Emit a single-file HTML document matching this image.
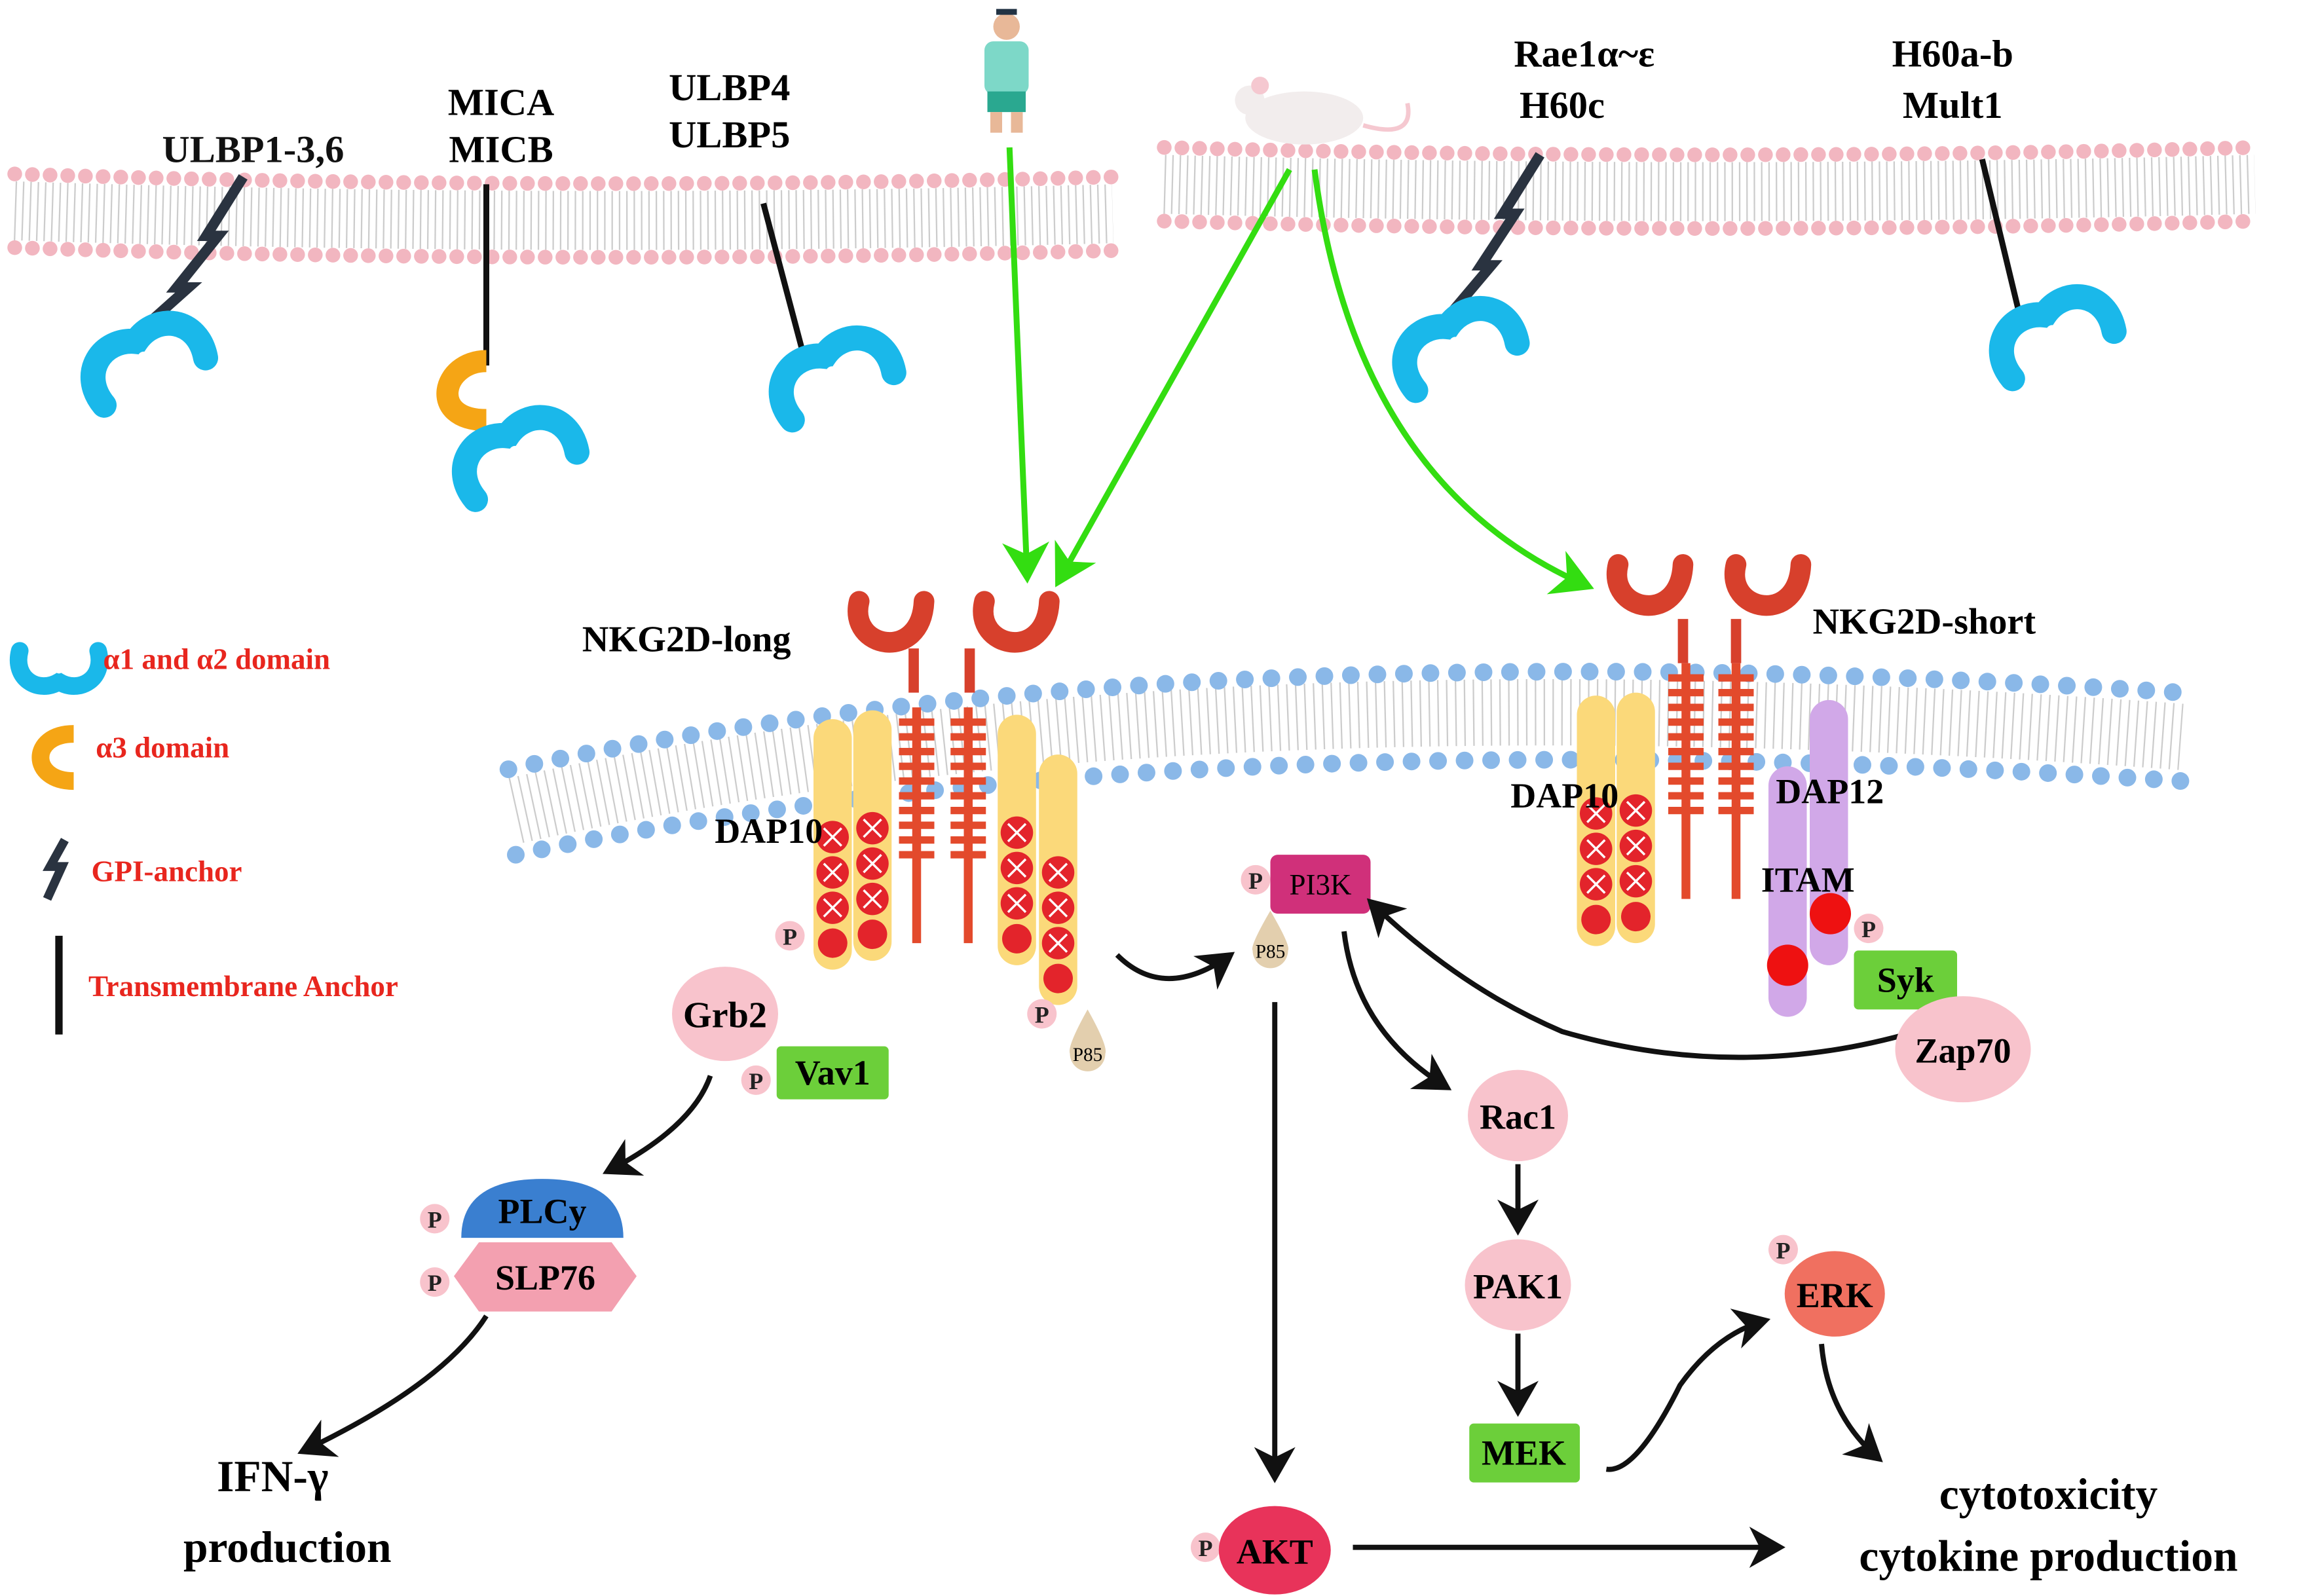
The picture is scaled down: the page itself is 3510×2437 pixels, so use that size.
<!DOCTYPE html>
<html><head><meta charset="utf-8"><style>
html,body{margin:0;padding:0;background:#fff;}
svg{display:block;}
text{font-family:"Liberation Serif",serif;font-weight:bold;}
</style></head><body>
<svg width="3510" height="2437" viewBox="0 0 1560 1083" xmlns="http://www.w3.org/2000/svg">
<defs>
<marker id="ab" markerWidth="8" markerHeight="8" refX="6" refY="4" orient="auto" markerUnits="strokeWidth"><path d="M0,0 L7,4 L0,8 L2,4z" fill="#111"/></marker>
<marker id="ag" markerWidth="8" markerHeight="8" refX="6" refY="4" orient="auto" markerUnits="strokeWidth"><path d="M0,0 L7,4 L0,8 L2,4z" fill="#33dd11"/></marker>
<g id="cy0"><path d="M-38,-12 C-45,15 -20,30 0,18 C20,30 45,15 38,-12" fill="none" stroke="#1ab8ea" stroke-width="17" stroke-linecap="round"/><circle cx="0" cy="6" r="4" fill="#fff"/></g>
<g id="cy"><use href="#cy0" transform="rotate(155)"/></g>
<g id="rc"><path d="M-22,-22 C-30,10 20,20 22,-22" fill="none" stroke="#d7402c" stroke-width="14" stroke-linecap="round"/></g>
<g id="lad"><rect x="-3" y="0" width="6" height="160" fill="#e34a2c"/>
<path d="M-12,10h24M-12,20h24M-12,30h24M-12,40h24M-12,50h24M-12,60h24M-12,70h24M-12,80h24M-12,90h24M-12,100h24" stroke="#e34a2c" stroke-width="5"/></g>
<g id="yc"><rect x="-13" y="0" width="26" height="170" rx="13" fill="#fbd97a"/>
<circle cy="80" r="11" fill="#e3242b"/><circle cy="104" r="11" fill="#e3242b"/><circle cy="128" r="11" fill="#e3242b"/><circle cy="152" r="10" fill="#e3242b"/>
<path d="M-6,74l12,12M6,74l-12,12M-6,98l12,12M6,98l-12,12M-6,122l12,12M6,122l-12,12" stroke="#fff" stroke-width="1.5"/></g>
</defs>

<!-- top membranes -->
<g fill="none" stroke-linecap="round">
<path d="M10,143 Q380,155 755,145" stroke="#ccc" stroke-width="40" stroke-dasharray="1 4" stroke-linecap="butt"/>
<path d="M10,118 Q380,130 755,120" stroke="#f2b6c0" stroke-width="10" stroke-dasharray="0 12"/>
<path d="M10,168 Q380,180 755,170" stroke="#f2b6c0" stroke-width="10" stroke-dasharray="0 12"/>
<path d="M790,125 Q1160,135 1530,125" stroke="#ccc" stroke-width="40" stroke-dasharray="1 4" stroke-linecap="butt"/>
<path d="M790,100 Q1160,110 1530,100" stroke="#f2b6c0" stroke-width="10" stroke-dasharray="0 12"/>
<path d="M790,150 Q1160,160 1530,150" stroke="#f2b6c0" stroke-width="10" stroke-dasharray="0 12"/>
<!-- bottom membrane -->
<path d="M350,550 Q800,450 1480,500" stroke="#ccc" stroke-width="45" stroke-dasharray="1 5" stroke-linecap="butt"/>
<path d="M345,522 Q800,425 1480,470" stroke="#8ab8e8" stroke-width="12" stroke-dasharray="0 18"/>
<path d="M350,580 Q800,485 1480,530" stroke="#8ab8e8" stroke-width="12" stroke-dasharray="0 18"/>
</g>

<!-- ligands -->
<text x="110" y="110" font-size="26" fill="#111">ULBP1-3,6</text>
<path d="M165,120 L140,160 L148,160 L120,195 L128,195 L100,220" fill="none" stroke="#2a3340" stroke-width="7"/>
<use href="#cy" x="100" y="248"/>
<text x="340" y="78" font-size="26" text-anchor="middle">MICA</text>
<text x="340" y="110" font-size="26" text-anchor="middle">MICB</text>
<line x1="330" y1="125" x2="330" y2="248" stroke="#111" stroke-width="4"/>
<path d="M330,245 C300,245 290,285 330,285" fill="none" stroke="#f5a515" stroke-width="15"/>
<use href="#cy" x="352" y="312"/>
<text x="495" y="68" font-size="26" text-anchor="middle">ULBP4</text>
<text x="495" y="100" font-size="26" text-anchor="middle">ULBP5</text>
<line x1="518" y1="138" x2="545" y2="240" stroke="#111" stroke-width="4"/>
<use href="#cy" x="567" y="258"/>
<text x="1075" y="45" font-size="26" text-anchor="middle">Rae1α~ε</text>
<text x="1060" y="80" font-size="26" text-anchor="middle">H60c</text>
<path d="M1045,105 L1020,145 L1028,145 L1005,180 L1012,180 L985,212" fill="none" stroke="#2a3340" stroke-width="7"/>
<use href="#cy" x="990" y="238"/>
<text x="1325" y="45" font-size="26" text-anchor="middle">H60a-b</text>
<text x="1325" y="80" font-size="26" text-anchor="middle">Mult1</text>
<line x1="1345" y1="108" x2="1370" y2="212" stroke="#111" stroke-width="4"/>
<use href="#cy" x="1395" y="230"/>

<!-- human -->
<circle cx="683" cy="18" r="9" fill="#e8b898"/><path d="M676,10 h14 v-4 h-14z" fill="#234"/>
<rect x="668" y="28" width="30" height="36" rx="6" fill="#7dd8c8"/>
<rect x="670" y="62" width="26" height="14" fill="#2aa890"/>
<rect x="672" y="76" width="8" height="14" fill="#e8b898"/><rect x="686" y="76" width="8" height="14" fill="#e8b898"/>
<!-- mouse -->
<ellipse cx="885" cy="80" rx="40" ry="18" fill="#f2eded"/><circle cx="848" cy="68" r="10" fill="#f2eded"/><circle cx="855" cy="58" r="6" fill="#f5c8d0"/>
<path d="M925,85 Q960,95 955,70" fill="none" stroke="#f5c8d0" stroke-width="3"/>

<!-- green arrows -->
<g fill="none" stroke="#33dd11" stroke-width="4" marker-end="url(#ag)">
<path d="M685,100 L697,392"/>
<path d="M875,115 L718,395"/>
<path d="M892,115 Q920,330 1078,398"/>
</g>

<!-- legend -->
<use href="#cy0" transform="translate(40,450) scale(0.7)"/>
<text x="70" y="454" font-size="20" fill="#e8261e">α1 and α2 domain</text>
<path d="M50,498 C20,498 20,530 50,530" fill="none" stroke="#f5a515" stroke-width="12"/>
<text x="65" y="514" font-size="20" fill="#e8261e">α3 domain</text>
<path d="M44,570 L34,588 L42,588 L32,610" fill="none" stroke="#2a3340" stroke-width="6"/>
<text x="62" y="598" font-size="20" fill="#e8261e">GPI-anchor</text>
<line x1="40" y1="635" x2="40" y2="702" stroke="#111" stroke-width="5"/>
<text x="60" y="676" font-size="20" fill="#e8261e">Transmembrane Anchor</text>

<!-- NKG2D long -->
<text x="395" y="442" font-size="25">NKG2D-long</text>
<line x1="620" y1="440" x2="620" y2="470" stroke="#d7402c" stroke-width="7"/>
<line x1="658" y1="440" x2="658" y2="470" stroke="#d7402c" stroke-width="7"/>
<use href="#rc" x="605" y="430"/><use href="#rc" x="690" y="430"/>
<use href="#yc" x="565" y="488"/><use href="#yc" x="592" y="482"/>
<use href="#yc" x="690" y="485"/><use href="#yc" x="718" y="512"/>
<use href="#lad" x="622" y="480"/><use href="#lad" x="657" y="480"/>
<text x="485" y="572" font-size="24">DAP10</text>

<!-- NKG2D short -->
<text x="1230" y="430" font-size="25">NKG2D-short</text>
<line x1="1142" y1="420" x2="1142" y2="450" stroke="#d7402c" stroke-width="7"/>
<line x1="1178" y1="420" x2="1178" y2="450" stroke="#d7402c" stroke-width="7"/>
<use href="#rc" x="1120" y="405"/><use href="#rc" x="1200" y="405"/>
<use href="#yc" x="1083" y="472"/><use href="#yc" x="1110" y="470"/>
<use href="#lad" x="1144" y="450"/><use href="#lad" x="1178" y="450"/>
<rect x="1200" y="520" width="26" height="170" rx="13" fill="#d1a8e8"/>
<rect x="1228" y="475" width="26" height="180" rx="13" fill="#d1a8e8"/>
<circle cx="1242" cy="620" r="14" fill="#ee1111"/><circle cx="1213" cy="655" r="14" fill="#ee1111"/>
<text x="1025" y="548" font-size="24">DAP10</text>
<text x="1205" y="545" font-size="24">DAP12</text>
<text x="1195" y="605" font-size="24">ITAM</text>

<!-- phospho circles -->
<g font-family="Liberation Sans,sans-serif" font-size="16" text-anchor="middle">
<g fill="#f8c3cc">
<circle cx="536" cy="635" r="10"/><circle cx="513" cy="733" r="10"/><circle cx="707" cy="688" r="10"/>
<circle cx="852" cy="597" r="10"/><circle cx="1268" cy="630" r="10"/><circle cx="1210" cy="848" r="10"/>
<circle cx="818" cy="1050" r="10"/><circle cx="295" cy="827" r="10"/><circle cx="295" cy="870" r="10"/></g>
<g fill="#222" style="font-weight:normal">
<text x="536" y="641">P</text><text x="513" y="739">P</text><text x="707" y="694">P</text>
<text x="852" y="603">P</text><text x="1268" y="636">P</text><text x="1210" y="854">P</text>
<text x="818" y="1056">P</text><text x="295" y="833">P</text><text x="295" y="876">P</text></g></g>

<!-- Grb2 / Vav1 -->
<ellipse cx="492" cy="688" rx="36" ry="32" fill="#f8c3cc"/>
<text x="492" y="697" font-size="25" text-anchor="middle">Grb2</text>
<rect x="527" y="710" width="76" height="36" rx="3" fill="#6ccf3a"/>
<text x="565" y="736" font-size="24" text-anchor="middle">Vav1</text>
<path d="M738,685 Q752,710 750,715 A12,12 0 1 1 726,715 Q724,710 738,685z" fill="#e3cfae"/>
<text x="738" y="720" font-size="13" text-anchor="middle" style="font-weight:normal">P85</text>

<!-- PI3K -->
<rect x="862" y="580" width="68" height="40" rx="5" fill="#d0307a"/>
<text x="896" y="607" font-size="20" text-anchor="middle" style="font-weight:normal">PI3K</text>
<path d="M862,618 Q876,642 874,645 A12,12 0 1 1 850,645 Q848,642 862,618z" fill="#e3cfae"/>
<text x="862" y="650" font-size="13" text-anchor="middle" style="font-weight:normal">P85</text>

<!-- arrows black -->
<g fill="none" stroke="#111" stroke-width="3.5" marker-end="url(#ab)">
<path d="M758,648 Q790,680 835,648"/>
<path d="M865,680 L865,1003"/>
<path d="M912,632 Q920,700 982,738"/>
<path d="M1030,790 L1030,835"/>
<path d="M1030,905 L1030,958"/>
<path d="M1090,997 Q1110,1000 1140,940 Q1165,905 1198,896"/>
<path d="M1236,912 Q1240,960 1275,990"/>
<path d="M918,1050 L1208,1050"/>
<path d="M482,730 Q470,765 412,795"/>
<path d="M330,893 Q300,940 205,985"/>
<path d="M1300,700 Q1180,735 1060,700 Q990,670 930,612"/>
</g>

<!-- Rac1 PAK1 MEK ERK AKT -->
<ellipse cx="1030" cy="757" rx="34" ry="31" fill="#f8c3cc"/><text x="1030" y="766" font-size="24" text-anchor="middle">Rac1</text>
<ellipse cx="1030" cy="872" rx="36" ry="31" fill="#f8c3cc"/><text x="1030" y="881" font-size="24" text-anchor="middle">PAK1</text>
<rect x="997" y="966" width="75" height="40" rx="3" fill="#6ccf3a"/><text x="1034" y="994" font-size="24" text-anchor="middle">MEK</text>
<ellipse cx="1245" cy="878" rx="34" ry="29" fill="#f07060"/><text x="1245" y="887" font-size="24" text-anchor="middle">ERK</text>
<ellipse cx="865" cy="1052" rx="38" ry="30" fill="#e8335a"/><text x="865" y="1061" font-size="24" text-anchor="middle">AKT</text>
<text x="1390" y="1024" font-size="30" text-anchor="middle">cytotoxicity</text>
<text x="1390" y="1066" font-size="30" text-anchor="middle">cytokine production</text>

<!-- Syk Zap70 -->
<rect x="1258" y="645" width="70" height="40" rx="3" fill="#6ccf3a"/><text x="1293" y="673" font-size="24" text-anchor="middle">Syk</text>
<ellipse cx="1332" cy="712" rx="46" ry="36" fill="#f8c3cc"/><text x="1332" y="721" font-size="24" text-anchor="middle">Zap70</text>

<!-- PLCy SLP76 -->
<path d="M313,840 Q313,800 368,800 Q423,800 423,840z" fill="#3a7fd0"/>
<text x="368" y="830" font-size="24" text-anchor="middle">PLCy</text>
<path d="M308,866 L325,843 L415,843 L432,866 L415,890 L325,890z" fill="#f3a0b0"/>
<text x="370" y="875" font-size="24" text-anchor="middle">SLP76</text>
<text x="185" y="1012" font-size="30" text-anchor="middle">IFN-γ</text>
<text x="195" y="1060" font-size="30" text-anchor="middle">production</text>
</svg>
</body></html>
